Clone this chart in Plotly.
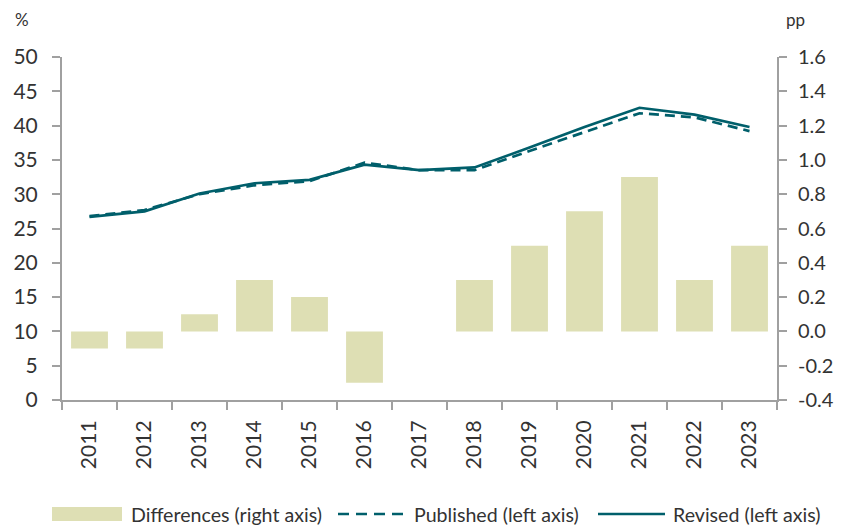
import plotly.graph_objects as go

years = ["2011", "2012", "2013", "2014", "2015", "2016", "2017", "2018", "2019", "2020", "2021", "2022", "2023"]
differences = [-0.1, -0.1, 0.1, 0.3, 0.2, -0.3, 0.0, 0.3, 0.5, 0.7, 0.9, 0.3, 0.5]
published = [26.8, 27.7, 30.0, 31.3, 31.9, 34.6, 33.5, 33.5, 36.3, 39.1, 41.8, 41.2, 39.2]
revised = [26.7, 27.5, 30.1, 31.6, 32.1, 34.3, 33.5, 33.9, 36.8, 39.8, 42.6, 41.6, 39.8]

left_ticks = [0, 5, 10, 15, 20, 25, 30, 35, 40, 45, 50]
right_ticks = [-0.4, -0.2, 0.0, 0.2, 0.4, 0.6, 0.8, 1.0, 1.2, 1.4, 1.6]
right_tick_labels = ["-0.4", "-0.2", "0.0", "0.2", "0.4", "0.6", "0.8", "1.0", "1.2", "1.4", "1.6"]

legend_labels = ["Differences (right axis)", "Published (left axis)", "Revised (left axis)"]

font_family = "Lato, Open Sans, sans-serif"
teal = "#005F6B"
bar_color = "#DEDFB4"
axis_color = "#A0A0A0"
text_color = "#333333"

# page body has an 8px default margin; compensate so the picture lands where the reference is
OFF = 8
W, H = 845, 525
ML, MT = 62 - OFF, 57 - OFF
MR = W - (777 - OFF)
MB = H - (400 - OFF)
PW, PH = W - ML - MR, H - MT - MB


def px_x(x):
    return (x - OFF - ML) / PW


def px_y(y):
    return (H - MB - (y - OFF)) / PH


fig = go.Figure()
fig.add_trace(go.Bar(x=years, y=differences, name=legend_labels[0],
                     marker=dict(color=bar_color, line=dict(width=0)), width=0.67,
                     yaxis="y2", showlegend=False))
fig.add_trace(go.Scatter(x=years, y=published, name=legend_labels[1], mode="lines",
                         line=dict(color=teal, width=2.7, dash="10px,6px"), showlegend=False))
fig.add_trace(go.Scatter(x=years, y=revised, name=legend_labels[2], mode="lines",
                         line=dict(color=teal, width=2.7), showlegend=False))

# manual legend
ly = 514
shapes = [
    dict(type="rect", xref="paper", yref="paper", x0=px_x(52), x1=px_x(122),
         y0=px_y(521), y1=px_y(507), fillcolor=bar_color, line=dict(width=0)),
    dict(type="line", xref="paper", yref="paper", x0=px_x(338), x1=px_x(405),
         y0=px_y(ly), y1=px_y(ly), line=dict(color=teal, width=2.7, dash="11px,7px")),
    dict(type="line", xref="paper", yref="paper", x0=px_x(598), x1=px_x(665),
         y0=px_y(ly), y1=px_y(ly), line=dict(color=teal, width=2.7)),
]
annotations = [
    dict(text=legend_labels[0], xref="paper", yref="paper", x=px_x(129), y=px_y(ly),
         xanchor="left", yanchor="middle", showarrow=False, font=dict(size=19.6, color=text_color)),
    dict(text=legend_labels[1], xref="paper", yref="paper", x=px_x(412), y=px_y(ly),
         xanchor="left", yanchor="middle", showarrow=False, font=dict(size=19.6, color=text_color)),
    dict(text=legend_labels[2], xref="paper", yref="paper", x=px_x(671), y=px_y(ly),
         xanchor="left", yanchor="middle", showarrow=False, font=dict(size=19.6, color=text_color)),
    dict(text="%", xref="paper", yref="paper", x=px_x(13), y=px_y(20), xanchor="left",
         yanchor="middle", showarrow=False, font=dict(size=17, color=text_color)),
    dict(text="pp", xref="paper", yref="paper", x=px_x(784), y=px_y(20), xanchor="left",
         yanchor="middle", showarrow=False, font=dict(size=17, color=text_color)),
]

fig.update_layout(
    width=W, height=H,
    margin=dict(l=ML, r=MR, t=MT, b=MB, autoexpand=False),
    paper_bgcolor="white", plot_bgcolor="white",
    font=dict(family=font_family, size=21, color=text_color),
    showlegend=False,
    xaxis=dict(type="category", tickangle=-90, tickson="boundaries", ticks="outside",
               ticklen=8, tickcolor=axis_color, tickwidth=2, showline=True, linecolor=axis_color,
               linewidth=2, showgrid=False, tickfont=dict(size=21), automargin=False,
               ticklabelstandoff=10),
    yaxis=dict(range=[0, 50], tickvals=left_ticks, showline=True, linecolor=axis_color, linewidth=2,
               ticks="outside", ticklen=8, tickwidth=2, tickcolor=axis_color, showgrid=False,
               zeroline=False, tickfont=dict(size=21), automargin=False, ticklabelstandoff=10),
    yaxis2=dict(range=[-0.4, 1.6], tickvals=right_ticks, ticktext=right_tick_labels,
                overlaying="y", side="right",
                showline=True, linecolor=axis_color, linewidth=2, ticks="outside", ticklen=8,
                tickwidth=2, tickcolor=axis_color, showgrid=False, zeroline=False,
                tickfont=dict(size=20), automargin=False, ticklabelstandoff=7),
    shapes=shapes,
    annotations=annotations,
)

fig.write_html("out.html")
